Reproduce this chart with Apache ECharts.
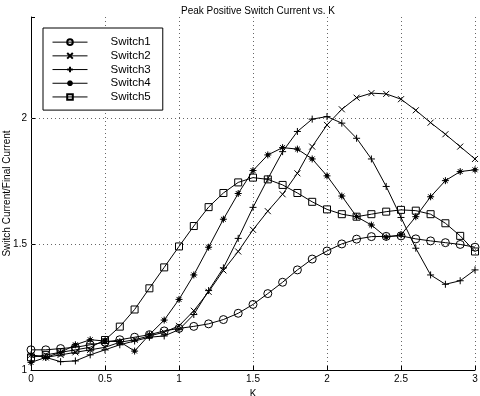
<!DOCTYPE html>
<html>
<head>
<meta charset="utf-8">
<script src="https://cdn.jsdelivr.net/npm/echarts@6/dist/echarts.min.js"></script>
<style>
html,body{margin:0;padding:0;background:#fff;}
#chart{width:480px;height:396px;}
</style>
</head>
<body>
<div id="chart"></div>
<script>
var K = [0,0.1,0.2,0.3,0.4,0.5,0.6,0.7,0.8,0.9,1.0,1.1,1.2,1.3,1.4,1.5,1.6,1.7,1.8,1.9,2.0,2.1,2.2,2.3,2.4,2.5,2.6,2.7,2.8,2.9,3.0];
var switch1 = [1.08,1.08,1.085,1.09,1.10,1.11,1.12,1.13,1.14,1.155,1.165,1.173,1.183,1.20,1.225,1.26,1.303,1.348,1.397,1.44,1.472,1.50,1.519,1.529,1.53,1.532,1.52,1.512,1.505,1.498,1.487];
var switch2 = [1.06,1.05,1.06,1.07,1.08,1.09,1.11,1.12,1.135,1.15,1.175,1.235,1.31,1.395,1.47,1.556,1.63,1.697,1.78,1.886,1.972,2.034,2.08,2.098,2.095,2.074,2.03,1.981,1.935,1.886,1.837];
var switch3 = [1.06,1.05,1.033,1.036,1.06,1.08,1.10,1.115,1.13,1.135,1.16,1.22,1.315,1.405,1.522,1.645,1.758,1.866,1.946,1.995,2.005,1.979,1.919,1.837,1.728,1.605,1.483,1.377,1.34,1.354,1.397];
var switch4 = [1.03,1.05,1.07,1.10,1.12,1.115,1.112,1.075,1.14,1.198,1.28,1.377,1.487,1.598,1.70,1.791,1.853,1.882,1.876,1.837,1.77,1.69,1.608,1.575,1.527,1.536,1.608,1.687,1.751,1.787,1.794];
var switch5 = [1.05,1.06,1.07,1.08,1.09,1.119,1.172,1.24,1.324,1.407,1.49,1.571,1.646,1.702,1.744,1.763,1.756,1.734,1.702,1.667,1.637,1.618,1.608,1.618,1.628,1.635,1.632,1.618,1.582,1.532,1.47];
var seriesNames = ['Switch1','Switch2','Switch3','Switch4','Switch5'];
var xTickLabels = ['0','0.5','1','1.5','2','2.5','3'];
var yTickLabels = ['1','1.5','2'];
var yGridValues = [1.5, 2];
var titleText = 'Peak Positive Switch Current vs. K';
var xName = 'K';
var yName = 'Switch Current/Final Current';

var FONT = 'Liberation Sans, Arial, Helvetica, sans-serif';
var DOT = {color: '#666', type: [1, 3], width: 1};
var symbols = [
  'circle',
  'path://M0,0L10,10M10,0L0,10',
  'path://M5,0L5,10M0,5L10,5',
  'path://M5,0L5,10M0,5L10,5M1.5,1.5L8.5,8.5M8.5,1.5L1.5,8.5M3,5A2,2 0 1,0 7,5A2,2 0 1,0 3,5Z',
  'rect'
];
var sizes = [8, 6, 7, 7, 7];
var fills = ['rgba(0,0,0,0)','rgba(0,0,0,0)','rgba(0,0,0,0)','#000','rgba(0,0,0,0)'];
var data = [switch1, switch2, switch3, switch4, switch5];

function pairs(arr){ return K.map(function(k,i){ return [k, arr[i]]; }); }

var series = seriesNames.map(function(n, i){
  var s = {
    name: n, type: 'line', data: pairs(data[i]),
    symbol: symbols[i], symbolSize: sizes[i], showAllSymbol: true,
    lineStyle: {color: '#000', width: 1},
    itemStyle: {color: fills[i], borderColor: '#000', borderWidth: 1},
    emphasis: {disabled: true}, animation: false, z: 3
  };
  if (i === 0) {
    s.markLine = {
      silent: true, symbol: 'none', label: {show: false}, animation: false,
      lineStyle: DOT, z: 1,
      data: yGridValues.map(function(v){ return {yAxis: v}; })
    };
  }
  return s;
});

var chart = echarts.init(document.getElementById('chart'), null, {renderer: 'canvas'});
chart.setOption({
  animation: false,
  backgroundColor: '#fff',
  title: {text: titleText, left: 176, top: 1, textStyle: {fontFamily: FONT, fontSize: 10, fontWeight: 'normal', color: '#000'}},
  grid: {left: 31, right: 5, top: 17, bottom: 26, containLabel: false, outerBoundsMode: 'none'},
  legend: {
    orient: 'vertical', left: 43, top: 28, data: seriesNames,
    itemWidth: 35, itemHeight: 7, itemGap: 1.4,
    padding: [8, 12, 7, 9],
    borderColor: '#000', borderWidth: 1, backgroundColor: '#fff',
    lineStyle: {width: 1, color: '#000'},
    textStyle: {fontFamily: FONT, fontSize: 11.5, lineHeight: 12.3, color: '#000', padding: [0, 0, 0, 18]},
    selectedMode: false
  },
  xAxis: {
    type: 'value', min: 0, max: 3, interval: 0.5,
    name: xName, nameLocation: 'middle', nameGap: 15,
    nameTextStyle: {fontFamily: FONT, fontSize: 10, color: '#000'},
    axisLine: {lineStyle: {color: '#000', width: 1}},
    axisTick: {inside: true, length: 4, lineStyle: {color: '#000'}},
    axisLabel: {fontFamily: FONT, fontSize: 10, color: '#000', margin: 4,
      formatter: function(v){ var s = String(+v.toFixed(1)); return xTickLabels.indexOf(s) >= 0 ? s : ''; }},
    splitLine: {show: true, lineStyle: DOT}
  },
  yAxis: {
    type: 'value', min: 1, max: 2.4, interval: 0.5,
    name: yName, nameLocation: 'middle', nameGap: 19, nameMoveOverlap: false,
    nameTextStyle: {fontFamily: FONT, fontSize: 10, color: '#000'},
    axisLine: {show: true, lineStyle: {color: '#000', width: 1}},
    axisTick: {show: true, inside: true, length: 4, lineStyle: {color: '#000'}},
    axisLabel: {fontFamily: FONT, fontSize: 10, color: '#000', margin: 4,
      formatter: function(v){ var s = String(+v.toFixed(1)); return yTickLabels.indexOf(s) >= 0 ? s : ''; }},
    splitLine: {show: false}
  },
  series: series
});
</script>
</body>
</html>
